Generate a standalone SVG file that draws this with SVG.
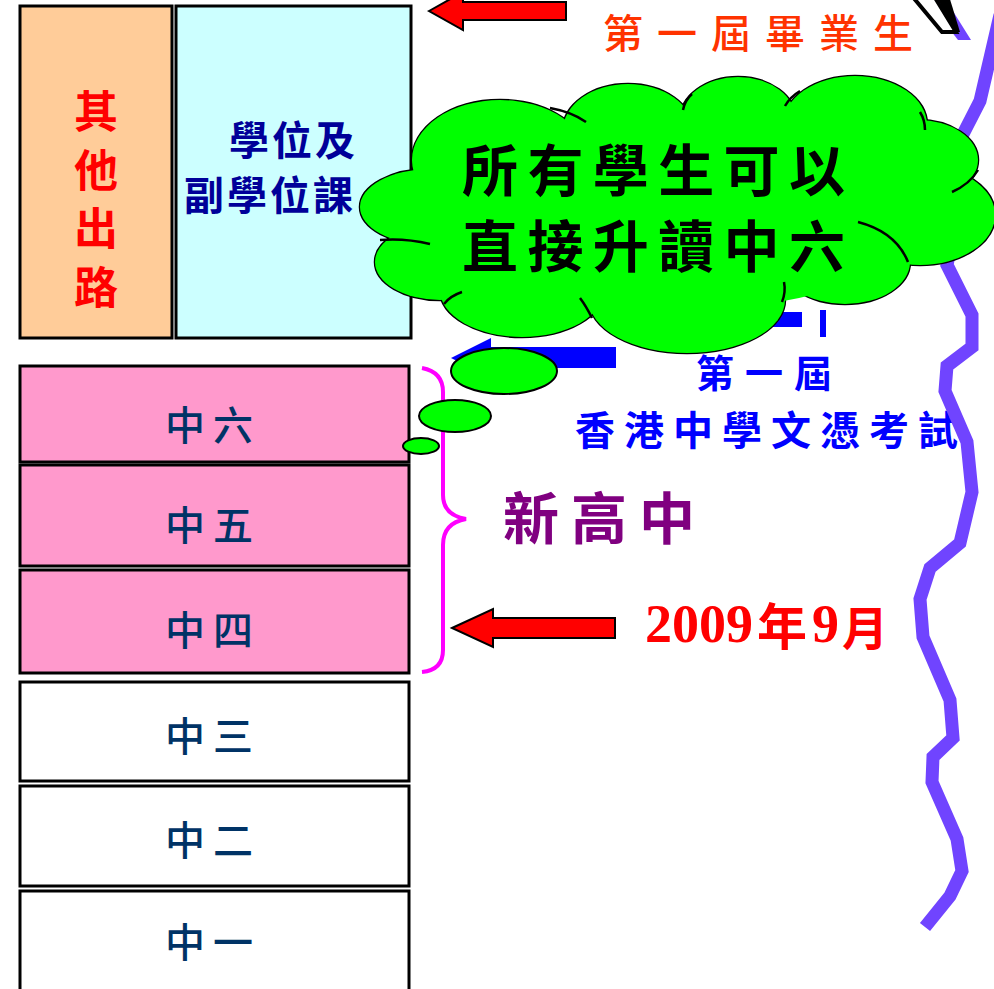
<svg xmlns="http://www.w3.org/2000/svg" width="994" height="989" viewBox="0 0 994 989">
<style>
.box{stroke:#000;stroke-width:3}
.cjk{font-family:'Noto Sans CJK TC','Noto Sans CJK SC',sans-serif}
.lvl{font-size:40px;fill:#003366;letter-spacing:8px;font-weight:500}
.lobe{fill:#00FF00;stroke:#000;stroke-width:2.5}
.fill{fill:#00FF00;stroke:none}
.arc{fill:none;stroke:#000;stroke-width:2.5}
.bub{fill:#00FF00;stroke:#000;stroke-width:2}
.redarrow{fill:#FF0000;stroke:#000;stroke-width:2}
</style>
<rect width="994" height="989" fill="#fff"/>

<g id="other">
<rect class="box" x="20" y="6" width="152" height="332" fill="#FFCC99"/>
<g class="cjk" font-size="44" font-weight="bold" fill="#FF0000" text-anchor="middle">
<text x="96" y="128">其</text>
<text x="96" y="187">他</text>
<text x="96" y="245">出</text>
<text x="96" y="304">路</text>
</g>
</g>
<g id="degree">
<rect class="box" x="176" y="6" width="235" height="332" fill="#CCFFFF"/>
<text class="cjk" x="229" y="155" font-size="40" font-weight="bold" fill="#000099" letter-spacing="3">學位及</text>
<text class="cjk" x="184" y="210" font-size="40" font-weight="bold" fill="#000099" letter-spacing="3">副學位課</text>
</g>

<g id="s6"><rect class="box" x="20" y="366" width="389" height="96" fill="#FF99CC"/><text class="cjk lvl" x="165" y="440">中六</text></g>
<g id="s5"><rect class="box" x="20" y="465" width="389" height="101" fill="#FF99CC"/><text class="cjk lvl" x="165" y="540">中五</text></g>
<g id="s4"><rect class="box" x="20" y="570" width="389" height="103" fill="#FF99CC"/><text class="cjk lvl" x="165" y="645">中四</text></g>
<g id="s3"><rect class="box" x="20" y="682" width="389" height="99" fill="#FFFFFF"/><text class="cjk lvl" x="165" y="751">中三</text></g>
<g id="s2"><rect class="box" x="20" y="786" width="389" height="100" fill="#FFFFFF"/><text class="cjk lvl" x="165" y="855">中二</text></g>
<g id="s1"><rect class="box" x="20" y="891" width="389" height="110" fill="#FFFFFF"/><text class="cjk lvl" x="165" y="957">中一</text></g>

<g id="connectors">
<path d="M422,368 Q443,372 443,392 L443,495 Q443,515 466,519 Q443,523 443,545 L443,650 Q443,670 422,672" fill="none" stroke="#FF00FF" stroke-width="4"/>
<polygon class="redarrow" points="452,628 493,609 493,618 615,618 615,638 493,638 493,647"/>
<polygon class="redarrow" points="429,11 463,-8 463,2 566,2 566,20 463,20 463,30"/>
<polygon points="451,358 491,338 491,347 616,347 616,368 491,368 491,378" fill="#0000FF"/>
</g>

<g id="labels">
<text class="cjk" x="603" y="48" font-size="40" font-weight="500" fill="#FF3300" letter-spacing="14">第一屆畢業生</text>
<text class="cjk" x="696" y="387" font-size="38" font-weight="bold" fill="#0000FF" letter-spacing="11">第一屆</text>
<text class="cjk" x="575" y="445" font-size="40" font-weight="bold" fill="#0000FF" letter-spacing="9">香港中學文憑考試</text>
<text class="cjk" x="503" y="539" font-size="56" font-weight="bold" fill="#800080" letter-spacing="12">新高中</text>
<text font-family="'Liberation Serif','Noto Sans CJK TC',serif" font-weight="bold" fill="#FF0000" y="642"><tspan x="645" font-size="54">2009</tspan><tspan x="757" font-size="50" class="cjk" y="645">年</tspan><tspan x="812" font-size="54" y="642">9</tspan><tspan x="842" font-size="46" class="cjk" y="645">月</tspan></text>
</g>

<g id="zigzag">
<polygon points="927,0 946,0 971,40 958,40" fill="#7044FF"/>
<polygon points="912,-4 942,32 956,32 934,-4" fill="#fff" stroke="#000" stroke-width="4"/>
<polygon points="936,-4 956,32 960,32 949,-4" fill="#000"/>
<polyline points="1000,15 980,101 960,140 950,250 947,265 972,315 972,347 947,366 945,391 967,442 972,492 960,543 930,568 920,599 923,637 950,700 953,738 933,757 932,782 957,839 962,871 950,896 925,927" fill="none" stroke="#7044FF" stroke-width="13" stroke-linejoin="miter"/>
</g>

<g id="hidden-blue">
<rect x="770" y="312" width="32" height="15" fill="#0000FF"/>
<rect x="820" y="310" width="6" height="27" fill="#0000FF"/>
</g>

<g id="cloud">
<ellipse class="lobe" cx="430" cy="207" rx="70" ry="38"/>
<ellipse class="lobe" cx="440" cy="262" rx="65" ry="38"/>
<ellipse class="lobe" cx="522" cy="290" rx="82" ry="47"/>
<ellipse class="lobe" cx="687" cy="300" rx="98" ry="53"/>
<ellipse class="lobe" cx="845" cy="262" rx="65" ry="42"/>
<ellipse class="lobe" cx="920" cy="215" rx="75" ry="50"/>
<ellipse class="lobe" cx="918" cy="160" rx="60" ry="40"/>
<ellipse class="lobe" cx="855" cy="125" rx="72" ry="49"/>
<ellipse class="lobe" cx="738" cy="120" rx="58" ry="43"/>
<ellipse class="lobe" cx="628" cy="130" rx="65" ry="46"/>
<ellipse class="lobe" cx="500" cy="160" rx="88" ry="60"/>
<ellipse class="fill" cx="430" cy="207" rx="70" ry="38"/>
<ellipse class="fill" cx="440" cy="262" rx="65" ry="38"/>
<ellipse class="fill" cx="522" cy="290" rx="82" ry="47"/>
<ellipse class="fill" cx="687" cy="300" rx="98" ry="53"/>
<ellipse class="fill" cx="845" cy="262" rx="65" ry="42"/>
<ellipse class="fill" cx="920" cy="215" rx="75" ry="50"/>
<ellipse class="fill" cx="918" cy="160" rx="60" ry="40"/>
<ellipse class="fill" cx="855" cy="125" rx="72" ry="49"/>
<ellipse class="fill" cx="738" cy="120" rx="58" ry="43"/>
<ellipse class="fill" cx="628" cy="130" rx="65" ry="46"/>
<ellipse class="fill" cx="500" cy="160" rx="88" ry="60"/>
<ellipse class="fill" cx="680" cy="210" rx="250" ry="100"/>
<path class="arc" d="M380,240 Q405,238 430,244"/>
<path class="arc" d="M550,108 Q572,112 586,122"/>
<path class="arc" d="M683,110 Q685,100 692,94"/>
<path class="arc" d="M785,106 Q790,97 800,91"/>
<path class="arc" d="M920,112 Q925,120 925,130"/>
<path class="arc" d="M978,170 Q970,184 952,192"/>
<path class="arc" d="M858,222 Q896,232 908,262"/>
<path class="arc" d="M782,302 Q786,292 784,282"/>
<path class="arc" d="M592,318 Q586,306 580,298"/>
<path class="arc" d="M444,304 Q450,296 462,292"/>
<text class="cjk" x="462" y="191" font-size="56" font-weight="bold" fill="#000" letter-spacing="9.4">所有學生可以</text>
<text class="cjk" x="462" y="267" font-size="56" font-weight="bold" fill="#000" letter-spacing="9.4">直接升讀中六</text>
</g>

<g id="bubbles">
<ellipse class="bub" cx="504" cy="371" rx="53" ry="23"/>
<ellipse class="bub" cx="455" cy="416" rx="36" ry="16"/>
<ellipse class="bub" cx="421" cy="446" rx="18" ry="8"/>
</g>
</svg>
